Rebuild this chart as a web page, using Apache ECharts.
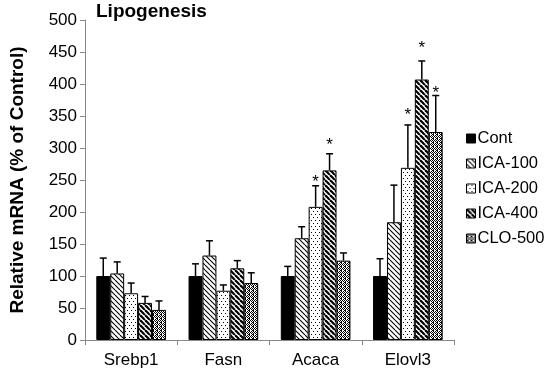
<!DOCTYPE html>
<html><head><meta charset="utf-8">
<script src="https://cdn.jsdelivr.net/npm/echarts@6/dist/echarts.min.js"></script>
<style>html,body{margin:0;padding:0;background:#fff}#c{width:550px;height:371px}</style>
</head><body><div id="c"></div>
<script>
const categories = ['Srebp1', 'Fasn', 'Acaca', 'Elovl3'];
const seriesNames = ['Cont', 'ICA-100', 'ICA-200', 'ICA-400', 'CLO-500'];
const contValues = [100, 100, 100, 100];
const ica100Values = [104, 132, 159, 184];
const ica200Values = [73, 77, 208, 269];
const ica400Values = [58, 112, 265, 407];
const clo500Values = [47, 89, 124, 325];
const contErrTop = [128, 119, 115, 127];
const ica100ErrTop = [122, 155, 177, 242];
const ica200ErrTop = [89, 86, 241, 336];
const ica400ErrTop = [68, 124, 291, 436];
const clo500ErrTop = [61, 105, 136, 382];
// significance stars: [category index, series index, y position value]
const stars = [[2, 2, 252], [2, 3, 310], [3, 2, 357], [3, 3, 462], [3, 4, 391]];
const yTicks = [0, 50, 100, 150, 200, 250, 300, 350, 400, 450, 500];

const values = [contValues, ica100Values, ica200Values, ica400Values, clo500Values];
const errTops = [contErrTop, ica100ErrTop, ica200ErrTop, ica400ErrTop, clo500ErrTop];

function makePattern(kind) {
  const c = document.createElement('canvas');
  const ctx = c.getContext('2d');
  if (kind === 'solid') {
    c.width = 4; c.height = 4; ctx.fillStyle = '#000'; ctx.fillRect(0, 0, 4, 4);
  } else if (kind === 'lightdiag' || kind === 'darkdiag') {
    const s = 5; c.width = s; c.height = s;
    ctx.fillStyle = '#fff'; ctx.fillRect(0, 0, s, s);
    ctx.strokeStyle = '#000';
    ctx.lineWidth = kind === 'lightdiag' ? 1.1 : 2.2;
    for (let k = -1; k <= 1; k++) {
      ctx.beginPath();
      ctx.moveTo(k * s, 0); ctx.lineTo(k * s + s, s); ctx.stroke();
    }
  } else if (kind === 'dots') {
    c.width = 4; c.height = 6;
    ctx.fillStyle = '#fff'; ctx.fillRect(0, 0, 4, 6);
    ctx.fillStyle = '#000';
    ctx.fillRect(1, 1, 1, 1);
    ctx.fillRect(3, 4, 1, 1);
  } else if (kind === 'check') {
    c.width = 4; c.height = 4;
    ctx.fillStyle = '#fff'; ctx.fillRect(0, 0, 4, 4);
    ctx.fillStyle = '#000';
    ctx.fillRect(0, 0, 1, 1); ctx.fillRect(2, 0, 1, 1);
    ctx.fillRect(1, 1, 1, 1); ctx.fillRect(3, 1, 1, 1);
    ctx.fillRect(0, 2, 1, 1); ctx.fillRect(1, 2, 1, 1);
    ctx.fillRect(1, 3, 1, 1); ctx.fillRect(3, 3, 1, 1);
  }
  return { image: c, repeat: 'repeat' };
}
const patternKinds = ['solid', 'lightdiag', 'dots', 'darkdiag', 'check'];

const GAP = 0.245;
const N = seriesNames.length;
const FONT = 'Arial, "Liberation Sans", sans-serif';

const barSeries = seriesNames.map((name, i) => ({
  name: name,
  type: 'bar',
  data: values[i],
  barGap: '0%',
  barCategoryGap: (GAP * 100) + '%',
  itemStyle: { color: makePattern(patternKinds[i]), borderColor: '#000', borderWidth: 1 },
  emphasis: { disabled: true },
  z: 2
}));

function barCenterX(api, cat, si) {
  const band = api.size([1, 0])[0];
  const w = band * (1 - GAP) / N;
  const cx = api.coord([cat, 0])[0];
  return { x: cx - band * (1 - GAP) / 2 + w * (si + 0.5), w: w };
}

const errData = [];
values.forEach((arr, si) => arr.forEach((v, ci) => errData.push([ci, v, errTops[si][ci], si])));

const errSeries = {
  type: 'custom',
  name: 'err',
  data: errData,
  z: 5,
  silent: true,
  renderItem: function (params, api) {
    const ci = api.value(0), v = api.value(1), e = api.value(2), si = api.value(3);
    const b = barCenterX(api, ci, si);
    const y0 = api.coord([ci, v])[1];
    const y1 = api.coord([ci, e])[1];
    const half = 3.5;
    return {
      type: 'group',
      children: [
        { type: 'line', shape: { x1: b.x, y1: y0, x2: b.x, y2: y1 }, style: { stroke: '#000', lineWidth: 1.5 } },
        { type: 'line', shape: { x1: b.x - half, y1: y1, x2: b.x + half, y2: y1 }, style: { stroke: '#000', lineWidth: 1.5 } }
      ]
    };
  }
};

const starSeries = {
  type: 'custom',
  name: 'stars',
  data: stars,
  z: 6,
  silent: true,
  renderItem: function (params, api) {
    const ci = api.value(0), si = api.value(1), yv = api.value(2);
    const b = barCenterX(api, ci, si);
    const y = api.coord([ci, yv])[1];
    return {
      type: 'text',
      x: b.x, y: y + 4,
      style: { text: '*', fontSize: 17, fontFamily: FONT, fill: '#000', align: 'center', verticalAlign: 'middle' }
    };
  }
};

const chart = echarts.init(document.getElementById('c'), null, { renderer: 'canvas' });
chart.setOption({
  animation: false,
  backgroundColor: '#fff',
  title: {
    text: 'Lipogenesis', left: 91, top: -3,
    textStyle: { fontSize: 19, fontWeight: 'bold', fontFamily: FONT, color: '#000' }
  },
  grid: { left: 74, right: 96, top: 20, bottom: 31 },
  legend: {
    orient: 'vertical', left: 461, top: 125,
    itemWidth: 9, itemHeight: 9, itemGap: 8, icon: 'rect',
    data: seriesNames.map((n, i) => ({ name: n, icon: 'rect', itemStyle: { color: makePattern(patternKinds[i]), borderColor: '#000', borderWidth: 1 } })),
    textStyle: { fontSize: 16.5, fontFamily: FONT, color: '#000', padding: [0, 0, 0, -3] },
    selectedMode: false
  },
  xAxis: {
    type: 'category', data: categories,
    axisLine: { lineStyle: { color: '#888', width: 1 } },
    axisTick: { show: true, length: 5, lineStyle: { color: '#888' } },
    axisLabel: { fontSize: 17, fontFamily: FONT, color: '#000', margin: 12 }
  },
  yAxis: {
    type: 'value', min: yTicks[0], max: yTicks[yTicks.length - 1], interval: yTicks[1] - yTicks[0],
    name: 'Relative mRNA (% of Control)', nameLocation: 'middle', nameGap: 58,
    nameTextStyle: { fontSize: 19, fontWeight: 'bold', fontFamily: FONT, color: '#000' },
    axisLine: { show: true, lineStyle: { color: '#888', width: 1 } },
    axisTick: { show: true, length: 5, lineStyle: { color: '#888' } },
    splitLine: { show: false },
    axisLabel: { fontSize: 17, fontFamily: FONT, color: '#000', margin: 8 }
  },
  series: barSeries.concat([errSeries, starSeries])
});
</script></body></html>
